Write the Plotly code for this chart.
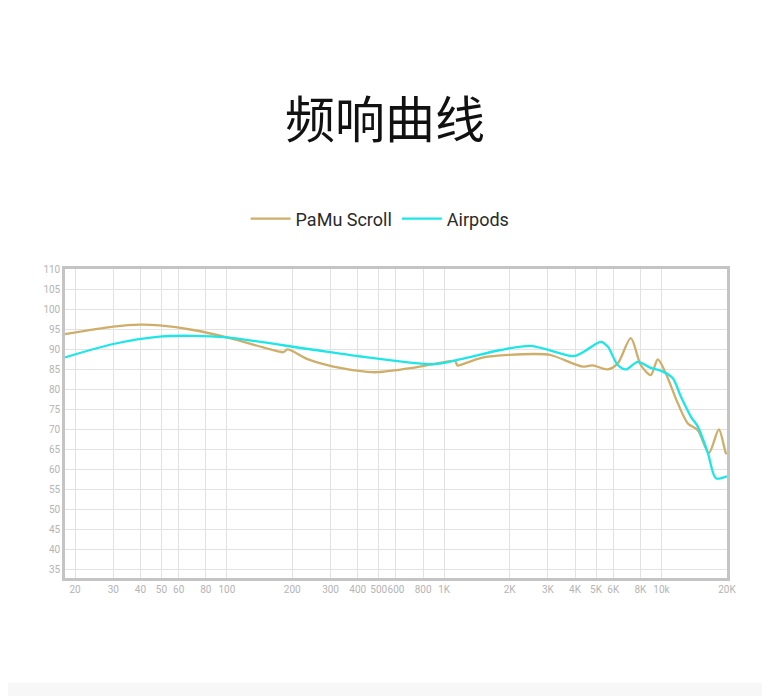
import plotly.graph_objects as go

# frequency response
pamu_freq = [18, 30, 40, 49, 70, 100, 172, 182, 190, 237, 309, 443, 493, 700, 893,
             1120, 1150, 1170, 1518, 2580, 3090, 3945, 4340, 4825, 5657, 6292,
             7223, 8031, 8928, 9616, 10472, 11896, 13220, 14700, 16520, 18370,
             19780, 20000]
pamu_db = [93.7, 95.6, 96.1, 95.9, 94.75, 92.9, 89.4, 89.2, 89.9, 87.4, 85.6, 84.3,
           84.2, 85.2, 86.2, 87.0, 85.9, 85.9, 87.9, 88.75, 88.5, 86.3, 85.6, 85.9,
           84.9, 86.4, 92.7, 86.0, 83.5, 87.4, 83.9, 76.4, 71.4, 69.7, 64.0, 69.9,
           64.0, 63.8]

air_freq = [18, 30, 49, 70, 100, 237, 443, 893, 1180, 1818, 2500, 3090, 3945,
            4390, 5254, 5657, 6292, 6849, 7780, 8928, 9930, 11276, 12277, 13650,
            14700, 16350, 17790, 20000]
air_db = [87.9, 91.25, 93.1, 93.3, 92.9, 90.0, 87.9, 86.2, 87.4, 89.75, 90.8, 89.6,
          88.2, 89.3, 91.8, 90.6, 86.0, 84.9, 86.8, 85.3, 84.6, 82.7, 78.1, 73.1,
          70.6, 64.0, 57.7, 58.2]

x_ticks = [20, 30, 40, 50, 60, 80, 100, 200, 300, 400, 500, 600, 800, 1000,
           2000, 3000, 4000, 5000, 6000, 8000, 10000, 20000]
x_labels = ["20", "30", "40", "50", "60", "80", "100", "200", "300", "400", "500",
            "600", "800", "1K", "2K", "3K", "4K", "5K", "6K", "8K", "10k", "20K"]
y_ticks = list(range(35, 111, 5))

fig = go.Figure()
fig.add_trace(go.Scatter(
    x=pamu_freq, y=pamu_db, name="PaMu Scroll", mode="lines",
    line=dict(color="#cfae6a", width=2.3, shape="spline", smoothing=0.8),
))
fig.add_trace(go.Scatter(
    x=air_freq, y=air_db, name="Airpods", mode="lines",
    line=dict(color="#1ee6e6", width=2.3, shape="spline", smoothing=0.8),
))

axis_style = dict(
    showline=True, mirror=True, linecolor="#c4c4c4", linewidth=2.5,
    showgrid=True, gridcolor="#e2e2e2", gridwidth=1, zeroline=False,
    ticks="", tickangle=0, tickfont=dict(size=10, color="#b4b4b4", family="Roboto"),
)

fig.update_xaxes(type="log", range=[1.255, 4.3015], tickvals=x_ticks,
                 ticktext=x_labels, **axis_style)
fig.update_yaxes(range=[32.75, 110], tickvals=y_ticks, **axis_style)

# page body adds 8px, so the figure is 762x688; plot area is 309 px tall
fig.update_layout(
    width=762, height=688,
    margin=dict(l=57, r=43, t=261, b=118),
    paper_bgcolor="white", plot_bgcolor="white",
    showlegend=True,
    legend=dict(orientation="h", x=0.476, xanchor="center", y=1.162,
                yanchor="middle", font=dict(size=18, color="#2a2a2a", family="Roboto"),
                itemwidth=40),
    shapes=[dict(type="rect", xref="paper", yref="paper", x0=-0.2, x1=1.2,
                 y0=-0.34, y1=-0.45, fillcolor="#f7f7f7", line_width=0, layer="below")],
    annotations=[dict(text="频响曲线", x=0.483, xref="paper", xanchor="center",
                      y=1.495, yref="paper", yanchor="middle", showarrow=False,
                      font=dict(size=50, color="#111", family="Noto Sans CJK SC"))],
)

fig.write_html("out.html")
